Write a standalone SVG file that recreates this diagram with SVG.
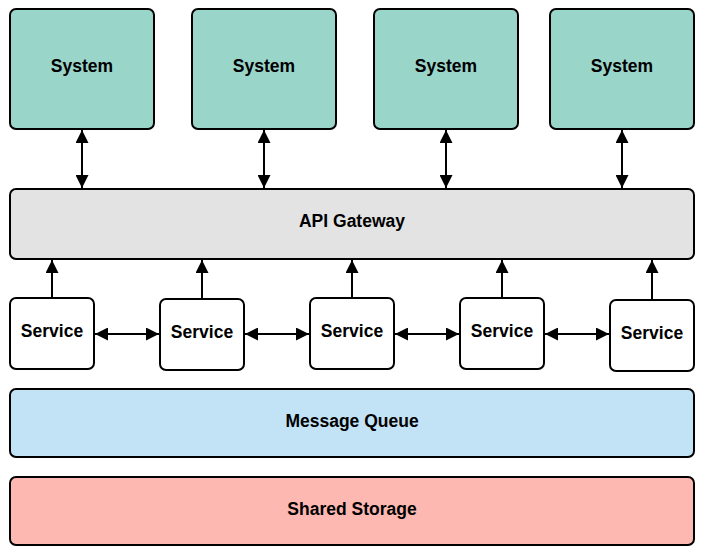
<svg xmlns="http://www.w3.org/2000/svg" width="706" height="557" viewBox="0 0 706 557">
<style>
.box{stroke:#000;stroke-width:2}
.sys{fill:#9ad5ca}
.gw{fill:#e3e3e3}
.svc{fill:#fff}
.mq{fill:#c2e3f5}
.st{fill:#fdb9b1}
text{font-family:"Liberation Sans",Arial,sans-serif;font-weight:bold;font-size:17.5px;fill:#000;text-anchor:middle;dominant-baseline:central}
.c{stroke:#000;stroke-width:2;fill:none;marker-end:url(#ah)}
.b{marker-start:url(#ah2)}
</style>
<defs>
<marker id="ah" viewBox="0 0 10 10" refX="10" refY="5" markerWidth="6.5" markerHeight="6.5" orient="auto" markerUnits="strokeWidth"><path d="M0,0 L10,5 L0,10 z" fill="#000"/></marker>
<marker id="ah2" viewBox="0 0 10 10" refX="0" refY="5" markerWidth="6.5" markerHeight="6.5" orient="auto" markerUnits="strokeWidth"><path d="M10,0 L0,5 L10,10 z" fill="#000"/></marker>
</defs>
<rect width="706" height="557" fill="#fff"/>
<g id="system1"><rect class="box sys" x="10" y="9" width="144" height="120" rx="6"/><text x="82" y="66">System</text></g>
<g id="system2"><rect class="box sys" x="192" y="9" width="144" height="120" rx="6"/><text x="264" y="66">System</text></g>
<g id="system3"><rect class="box sys" x="374" y="9" width="144" height="120" rx="6"/><text x="446" y="66">System</text></g>
<g id="system4"><rect class="box sys" x="550" y="9" width="144" height="120" rx="6"/><text x="622" y="66">System</text></g>
<g id="gateway"><rect class="box gw" x="10" y="189" width="684" height="70" rx="6"/><text x="352" y="221">API Gateway</text></g>
<g id="service1"><rect class="box svc" x="10" y="298" width="84" height="71" rx="6"/><text x="52" y="331">Service</text></g>
<g id="service2"><rect class="box svc" x="160" y="299" width="84" height="71" rx="6"/><text x="202" y="332">Service</text></g>
<g id="service3"><rect class="box svc" x="310" y="298" width="84" height="71" rx="6"/><text x="352" y="331">Service</text></g>
<g id="service4"><rect class="box svc" x="460" y="298" width="84" height="71" rx="6"/><text x="502" y="331">Service</text></g>
<g id="service5"><rect class="box svc" x="610" y="300" width="84" height="71" rx="6"/><text x="652" y="333">Service</text></g>
<g id="queue"><rect class="box mq" x="10" y="389" width="684" height="68" rx="6"/><text x="352" y="421">Message Queue</text></g>
<g id="storage"><rect class="box st" x="10" y="477" width="684" height="68" rx="6"/><text x="352" y="509">Shared Storage</text></g>
<g id="connectors">
<path class="c b" d="M82,130 V188"/>
<path class="c b" d="M264,130 V188"/>
<path class="c b" d="M446,130 V188"/>
<path class="c b" d="M622,130 V188"/>
<path class="c" d="M52,297 V260"/>
<path class="c" d="M202,298 V260"/>
<path class="c" d="M352,297 V260"/>
<path class="c" d="M502,297 V260"/>
<path class="c" d="M652,299 V260"/>
<path class="c b" d="M95,334 H159"/>
<path class="c b" d="M245,334 H309"/>
<path class="c b" d="M395,334 H459"/>
<path class="c b" d="M545,334 H609"/>
</g>
</svg>
